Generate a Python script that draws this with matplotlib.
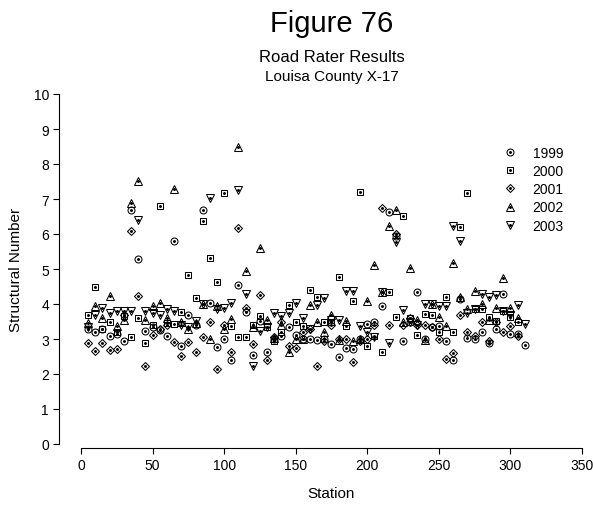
import matplotlib.pyplot as plt
import numpy as np
from matplotlib.lines import Line2D

plt.rcParams['font.family'] = ['Liberation Sans', 'DejaVu Sans']

nan = np.nan

station = [5, 10, 15, 20, 25, 30, 35, 40, 45, 50,
           55, 60, 65, 70, 75, 80, 85, 90, 95, 100,
           105, 110, 115, 120, 125, 130, 135, 140, 145, 150,
           155, 160, 165, 170, 175, 180, 185, 190, 195, 200,
           205, 210, 215, 220, 225, 230, 235, 240, 245, 250,
           255, 260, 265, 270, 275, 280, 285, 290, 295, 300,
           305, 310]

sn_1999 = [3.29, 3.20, 3.30, 3.09, 3.15, 2.95, 6.69, 5.30, 3.24, 3.33,
           3.25, 3.10, 5.81, 2.81, 3.69, 3.40, 6.70, 4.03, 2.76, 3.00,
           2.41, 4.54, 3.76, 2.54, 3.52, 2.62, 3.00, 3.10, 3.33, 3.11,
           3.00, 3.00, 2.97, 3.00, 2.86, 2.48, 2.75, 2.71, 3.00, 3.43,
           3.50, 3.95, 6.64, 5.95, 2.95, 3.50, 4.33, 3.00, 3.33, 3.38,
           2.93, 2.41, 4.14, 3.02, 3.00, 3.20, 2.90, 3.29, 4.29, 3.14,
           3.14, 2.83]

sn_2000 = [3.68, 4.50, 3.30, 3.50, 3.19, 3.65, 3.07, 3.59, 2.88, 3.40,
           6.81, 3.45, 3.43, 3.76, 4.84, 4.16, 6.38, 5.31, 4.62, 7.16,
           3.36, 3.05, 3.05, 3.40, 3.65, 3.35, 2.95, 3.21, 3.98, 3.48,
           3.38, 4.40, 4.21, 3.48, 3.48, 4.78, 3.38, 4.08, 7.19, 2.79,
           3.10, 2.62, 4.35, 3.62, 6.52, 3.59, 3.11, 3.71, 3.69, 3.19,
           4.19, 3.19, 6.21, 7.16, 3.86, 3.86, 3.62, 3.52, 3.80, 3.62,
           3.50, nan]

sn_2001 = [2.90, 2.65, 2.90, 2.69, 2.71, 3.70, 6.10, 4.22, 2.22, 3.11,
           3.30, 3.40, 2.92, 2.52, 2.92, 2.62, 3.07, 3.50, 2.14, 3.40,
           2.64, 6.17, 3.88, 2.86, 4.26, 2.39, 3.05, 3.50, 2.80, 2.73,
           3.20, 3.30, 2.24, 2.95, 3.40, 3.00, 3.00, 2.33, 2.95, 3.00,
           3.40, 6.73, 3.40, 6.00, 3.40, 3.60, 3.40, 3.40, 3.35, 3.00,
           2.43, 2.59, 3.69, 3.19, 3.10, 3.50, 2.95, 3.48, 3.20, 3.38,
           3.10, nan]

sn_2002 = [3.45, 3.93, 3.60, 4.22, 3.36, 3.55, 6.90, 7.52, 3.55, 3.95,
           4.03, 3.60, 7.29, 3.50, 3.30, 3.45, 4.00, 3.00, 3.95, 3.30,
           3.57, 8.48, 4.93, 3.33, 5.59, 3.55, 3.02, 3.40, 2.62, 3.00,
           3.00, 3.97, 3.50, 3.19, 3.70, 2.98, 3.52, 2.95, 3.00, 4.08,
           5.11, 4.33, 6.24, 6.69, 3.50, 5.03, 3.55, 2.98, 4.00, 3.62,
           3.36, 5.17, 4.19, 3.85, 4.38, 4.00, 3.55, 3.88, 4.74, 3.90,
           3.60, nan]

sn_2003 = [3.35, 3.70, 3.88, 3.74, 3.80, 3.80, 3.80, 6.40, 3.81, 3.75,
           3.70, 3.85, 3.81, 3.40, 3.35, 3.52, 4.00, 7.02, 3.85, 3.90,
           4.03, 7.26, 4.29, 2.22, 3.24, 3.35, 3.74, 3.67, 3.74, 4.03,
           3.60, 3.29, 3.97, 4.16, 3.55, 3.55, 4.36, 4.36, 3.38, 3.20,
           3.05, 4.33, 2.90, 5.76, 3.84, 3.50, 3.40, 4.00, 4.00, 3.95,
           3.95, 6.24, 5.81, 3.74, 3.86, 4.30, 4.20, 4.25, 3.81, 3.70,
           3.97, 3.43]

years = ['1999', '2000', '2001', '2002', '2003']
series = [sn_1999, sn_2000, sn_2001, sn_2002, sn_2003]
markers = ['o', 's', 'D', '^', 'v']
sizes = [5.0, 4.6, 4.0, 5.6, 5.6]

fig = plt.figure(figsize=(5.93, 5.06), dpi=100)
ax = fig.add_axes([81 / 593, 61 / 506, 501 / 593, 350 / 506])

handles = []
for yr, vals, m, ms in zip(years, series, markers, sizes):
    ax.plot(station, vals, linestyle='none', marker=m, markersize=ms,
            markerfacecolor='none', markeredgecolor='black',
            markeredgewidth=0.75, clip_on=False)
    ax.plot(station, vals, linestyle='none', marker='o', markersize=1.1,
            color='black', clip_on=False)
    h1 = Line2D([], [], linestyle='none', marker=m, markersize=ms,
                markerfacecolor='none', markeredgecolor='black',
                markeredgewidth=0.75)
    h2 = Line2D([], [], linestyle='none', marker='o', markersize=1.1,
                color='black')
    handles.append((h1, h2))

ax.set_xlim(0, 350)
ax.set_ylim(0, 10)
ax.set_xticks(range(0, 351, 50))
ax.set_yticks(range(0, 11, 1))

for s in ['top', 'right']:
    ax.spines[s].set_visible(False)
ax.spines['left'].set_position(('outward', 16))
ax.spines['bottom'].set_position(('outward', 3))
for s in ['left', 'bottom']:
    ax.spines[s].set_linewidth(0.8)
ax.tick_params(direction='out', length=4, width=0.8, labelsize=10, pad=3)

ax.set_xlabel('Station', fontsize=11, labelpad=10)
ax.set_ylabel('Structural Number', fontsize=11, labelpad=8)

cx = (81 + 582) / 2 / 593
fig.text(cx, 1 - 24 / 506, 'Figure 76', ha='center', va='center', fontsize=21)
fig.text(cx, 1 - 57 / 506, 'Road Rater Results', ha='center', va='center', fontsize=12)
fig.text(cx, 1 - 77 / 506, 'Louisa County X-17', ha='center', va='center', fontsize=11)

fig.legend(handles, years, loc='upper left',
           bbox_to_anchor=(502 / 593, 1 - 147 / 506), frameon=False,
           fontsize=10, handlelength=1.2, handletextpad=1.0, labelspacing=0.3,
           borderaxespad=0, borderpad=0)

fig.savefig('out.png', dpi=100)
